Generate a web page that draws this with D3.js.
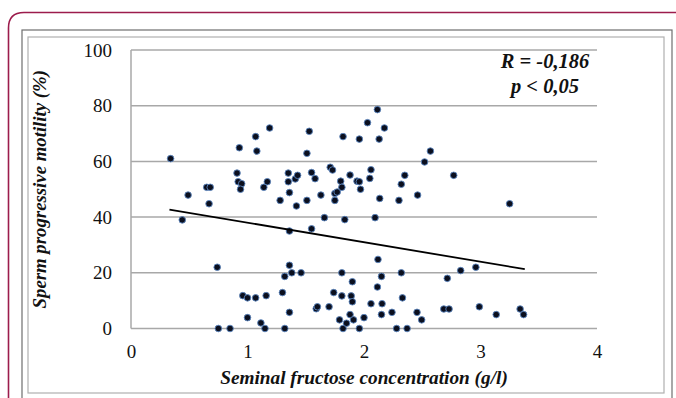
<!DOCTYPE html>
<html>
<head>
<meta charset="utf-8">
<script src="https://cdn.jsdelivr.net/npm/d3@7"></script>
<style>
  body { margin: 0; background: #fff; }
  svg { display: block; }
</style>
</head>
<body>
<div id="vis"></div>
<script>
// Data: fructose (g/l) vs progressive motility (%)
const fructose = [0.34, 0.44, 0.49, 0.65, 0.68, 0.67, 0.74, 0.75, 0.85, 0.91, 0.92, 0.95, 0.94, 0.93,
  0.96, 1.00, 1.07, 1.16, 1.00, 1.115, 1.15, 1.07, 1.08, 1.19, 1.17, 1.14, 1.28, 1.30, 1.32, 1.32,
  1.35, 1.35, 1.36, 1.36, 1.36, 1.38, 1.36, 1.41, 1.43, 1.42, 1.46, 1.51, 1.51, 1.53, 1.55, 1.58,
  1.55, 1.59, 1.60, 1.63, 1.66, 1.70, 1.71, 1.73, 1.74, 1.75, 1.75, 1.77, 1.80, 1.81, 1.82, 1.835,
  1.81, 1.81, 1.79, 1.82, 1.85, 1.88, 1.88, 1.89, 1.90, 1.90, 1.91, 1.94, 1.96, 1.97, 1.96, 1.96,
  2.00, 2.03, 2.05, 2.06, 2.06, 2.095, 2.115, 2.13, 2.135, 2.12, 2.115, 2.15, 2.155, 2.15, 2.175,
  2.24, 2.28, 2.30, 2.32, 2.35, 2.32, 2.33, 2.37, 2.46, 2.455, 2.495, 2.52, 2.57, 2.685, 2.73,
  2.715, 2.77, 2.83, 2.96, 2.99, 3.135, 3.25, 3.34, 3.37];
const motility = [61.0, 39.0, 47.9, 50.7, 50.7, 44.8, 22.0, 0, 0, 55.8, 52.7, 52.0, 50.0, 64.9,
  11.8, 11.0, 11.0, 11.8, 3.9, 2.0, 0, 68.9, 63.7, 72.0, 52.7, 50.7, 46.0, 12.9, 18.7, 0,
  55.8, 52.7, 48.8, 35.0, 22.7, 20.0, 5.8, 53.7, 55.0, 44.0, 20.0, 62.9, 46.0, 70.8, 56.0, 53.8,
  35.8, 7.1, 7.8, 47.9, 39.8, 7.8, 57.9, 56.9, 12.9, 48.5, 46.0, 49.0, 52.9, 50.7, 68.9, 39.1,
  20.0, 11.7, 3.1, 0, 1.9, 5.0, 55.1, 11.7, 16.8, 9.6, 3.1, 52.9, 52.7, 50.0, 68.0, 0,
  3.9, 73.9, 53.9, 57.0, 8.9, 39.8, 78.6, 68.0, 46.7, 24.8, 14.9, 18.7, 8.9, 5.0, 72.0,
  5.8, 0, 46.0, 51.8, 55.0, 20.0, 11.0, 0, 47.9, 5.8, 3.1, 59.8, 63.7, 7.0, 7.0,
  18.0, 55.0, 20.8, 22.0, 7.8, 5.0, 44.8, 7.0, 5.0];

// Trend line end points
const trendX = [0.33, 3.38];
const trendY = [42.7, 21.3];

const xTicks = [0, 1, 2, 3, 4];
const yTicks = [0, 20, 40, 60, 80, 100];

const FONT = "'Liberation Serif'";

const W = 676, H = 398;
const margin = { top: 50, right: 79, bottom: 69.5, left: 131 };
const width = W - margin.left - margin.right;
const height = H - margin.top - margin.bottom;

const root = d3.select('#vis').append('svg')
    .attr('width', W)
    .attr('height', H);

// Page frames
root.append('path')
    .attr('d', 'M8.5,402 L8.5,28 Q8.5,12.5 24,12.5 L680,12.5')
    .attr('fill', 'none')
    .attr('stroke', '#9c1c4c')
    .attr('stroke-width', 1.6);

root.append('rect')
    .attr('x', 22).attr('y', 30).attr('width', 650).attr('height', 380)
    .attr('fill', 'none').attr('stroke', '#6e6e6e').attr('stroke-width', 1.2);
root.append('rect')
    .attr('x', 28).attr('y', 37).attr('width', 636).attr('height', 356)
    .attr('fill', 'none').attr('stroke', '#b0b0b0').attr('stroke-width', 1.2);

const svg = root.append('g')
    .attr('transform', `translate(${margin.left},${margin.top})`);

const xScale = d3.scaleLinear().domain([0, 4]).range([0, width]);
const yScale = d3.scaleLinear().domain([0, 100]).range([height, 0]);

// Gridlines
svg.append('g')
    .selectAll('line')
    .data(yTicks)
    .join('line')
    .attr('x1', 0)
    .attr('x2', width)
    .attr('y1', d => yScale(d))
    .attr('y2', d => yScale(d))
    .attr('stroke', '#a8a8a8')
    .attr('stroke-width', 1.5);

svg.append('line')
    .attr('x1', 0).attr('x2', 0)
    .attr('y1', 0).attr('y2', height)
    .attr('stroke', '#a8a8a8')
    .attr('stroke-width', 1.5);

// Axes
const yAxis = svg.append('g')
    .call(d3.axisLeft(yScale).tickValues(yTicks).tickSize(0).tickPadding(19));
yAxis.attr('font-family', null).style('font-family', FONT);
yAxis.select('.domain').remove();
yAxis.selectAll('text')
    .style('font-family', FONT)
    .style('font-size', '19px')
    .attr('fill', '#111');

const xAxis = svg.append('g')
    .attr('transform', `translate(0,${height})`)
    .call(d3.axisBottom(xScale).tickValues(xTicks).tickFormat(d3.format('d')).tickSize(0).tickPadding(16));
xAxis.attr('font-family', null).style('font-family', FONT);
xAxis.select('.domain').remove();
xAxis.selectAll('text')
    .style('font-family', FONT)
    .style('font-size', '19px')
    .attr('fill', '#111');

// Points
const points = fructose.map((x, i) => ({ x: x, y: motility[i] }));
svg.selectAll('.points')
    .data(points)
    .join('circle')
    .attr('class', 'points')
    .attr('cx', d => xScale(d.x))
    .attr('cy', d => yScale(d.y))
    .attr('r', 3.3)
    .attr('fill', '#0b0f1e')
    .attr('stroke', '#5b86c0')
    .attr('stroke-width', 0.9);

// Trend line
svg.append('line')
    .attr('x1', xScale(trendX[0])).attr('y1', yScale(trendY[0]))
    .attr('x2', xScale(trendX[1])).attr('y2', yScale(trendY[1]))
    .attr('stroke', '#000')
    .attr('stroke-width', 1.8);

// Annotation
const note = svg.append('text')
    .attr('text-anchor', 'middle')
    .style('font-family', FONT)
    .style('font-size', '20.5px')
    .style('font-weight', 'bold')
    .style('font-style', 'italic')
    .attr('fill', '#111');
note.append('tspan').attr('x', 414).attr('y', 18).text('R = -0,186');
note.append('tspan').attr('x', 414).attr('y', 43).text('p < 0,05');

// Axis labels
svg.append('text')
    .attr('text-anchor', 'middle')
    .attr('x', width / 2)
    .attr('y', height + 55)
    .style('font-family', FONT)
    .style('font-size', '19.3px')
    .style('font-weight', 'bold')
    .style('font-style', 'italic')
    .attr('fill', '#111')
    .text('Seminal fructose concentration (g/l)');

svg.append('text')
    .attr('text-anchor', 'middle')
    .attr('transform', 'rotate(-90)')
    .attr('x', -height / 2)
    .attr('y', -85)
    .style('font-family', FONT)
    .style('font-size', '18.8px')
    .style('font-weight', 'bold')
    .style('font-style', 'italic')
    .attr('fill', '#111')
    .text('Sperm progressive motility (%)');
</script>
</body>
</html>
